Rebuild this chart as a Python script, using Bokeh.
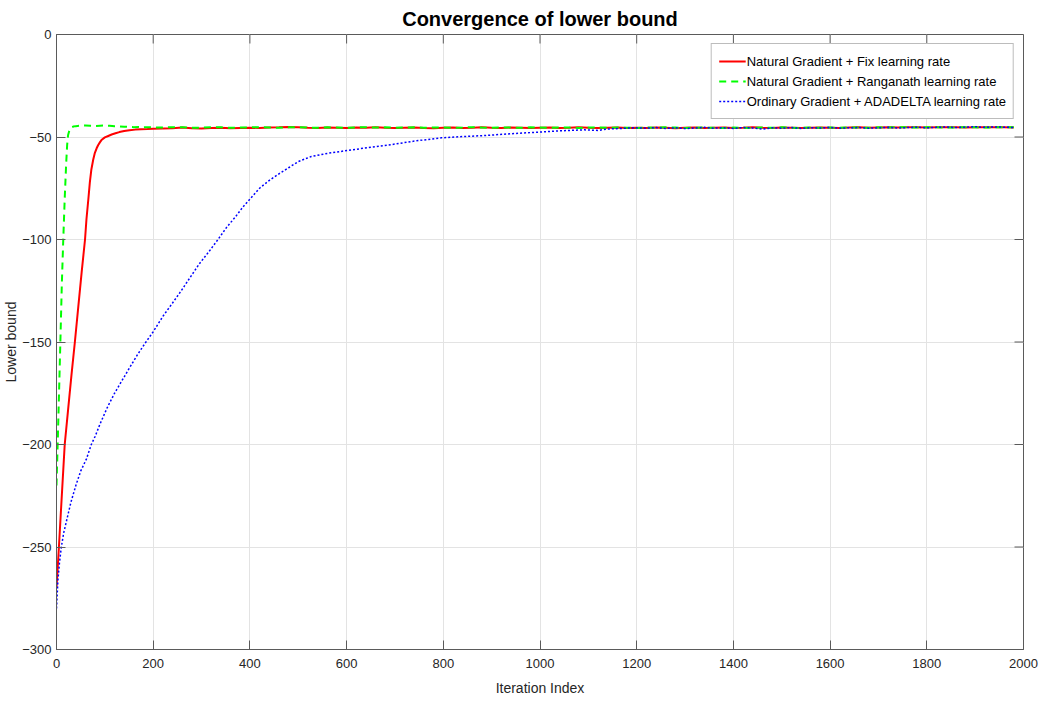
import math
from bokeh.plotting import figure
from bokeh.models import FixedTicker, Range1d, Legend, LegendItem
from bokeh.embed import file_html
from bokeh.resources import INLINE

title_text = "Convergence of lower bound"
x_label = "Iteration Index"
y_label = "Lower bound"
x_ticks = [0, 200, 400, 600, 800, 1000, 1200, 1400, 1600, 1800, 2000]
y_ticks = [-300, -250, -200, -150, -100, -50, 0]
series_names = [
    "Natural Gradient + Fix learning rate",
    "Natural Gradient + Ranganath learning rate",
    "Ordinary Gradient + ADADELTA learning rate",
]

tail_iters = [200, 220, 240, 260, 280, 300, 320, 340, 360, 380, 400, 420, 440, 460, 480,
              500, 520, 540, 560, 580, 600, 620, 640, 660, 680, 700, 720, 740, 760, 780,
              800, 820, 840, 860, 880, 900, 920, 940, 960, 980, 1000, 1020, 1040, 1060, 1080,
              1100, 1120, 1140, 1160, 1180, 1200, 1220, 1240, 1260, 1280, 1300, 1320, 1340, 1360, 1380,
              1400, 1420, 1440, 1460, 1480, 1500, 1520, 1540, 1560, 1580, 1600, 1620, 1640, 1660, 1680,
              1700, 1720, 1740, 1760, 1780, 1800, 1820, 1840, 1860, 1880, 1900, 1920, 1940, 1960, 1980]

# Natural Gradient + Fix learning rate (red)
iter_red = [0, 5, 10, 17, 24, 31, 38, 45, 52, 59, 62, 66, 69, 72, 76, 79, 83, 86, 90, 93,
            100, 107, 114, 122, 130, 140, 151, 163, 175, 188] + tail_iters
lb_red = [-270, -250, -229, -200, -183, -166, -150, -133, -116, -100, -90, -80, -72, -66, -61, -58,
          -55.5, -54, -52.5, -51.5, -50.2, -49.5, -48.8, -48.2, -47.6, -47.1, -46.7, -46.4, -46.2, -46.1,
          -46.0, -45.9, -45.7, -45.4, -45.7, -45.8, -45.6, -45.5, -45.7, -45.6,
          -45.5, -45.6, -45.4, -45.3, -45.1, -45.3, -45.5, -45.6, -45.4, -45.5,
          -45.6, -45.4, -45.5, -45.3, -45.5, -45.6, -45.5, -45.4, -45.6, -45.7,
          -45.5, -45.4, -45.6, -45.5, -45.3, -45.5, -45.6, -45.4, -45.5, -45.6,
          -45.5, -45.4, -45.6, -45.5, -45.3, -45.5, -45.6, -45.5, -45.4, -45.6,
          -45.5, -45.6, -45.4, -45.5, -45.7, -45.5, -45.4, -45.6, -45.5, -45.4,
          -45.6, -45.5, -45.3, -45.5, -45.6, -45.4, -45.5, -45.6, -45.5, -45.4,
          -45.5, -45.6, -45.4, -45.3, -45.5, -45.4, -45.3, -45.4, -45.2, -45.3,
          -45.4, -45.3, -45.2, -45.3, -45.4, -45.2, -45.3, -45.2, -45.3, -45.4]

# Natural Gradient + Ranganath learning rate (green)
iter_green = [0, 3, 6, 8, 11, 14, 17, 20, 22, 24, 27, 31, 35, 40, 50, 60, 70, 80, 90, 100,
              110, 120, 130, 140, 150, 160, 170, 180, 190] + tail_iters
lb_green = [-220, -195, -168, -150, -122, -100, -80, -63, -54, -49, -46.5, -45.3, -44.9, -44.7,
            -44.5, -44.4, -44.5, -44.6, -44.5, -44.4, -44.5, -44.7, -44.8, -45.0, -45.1, -45.2,
            -45.1, -45.3, -45.2,
            -45.3, -45.4, -45.2, -45.3, -45.5, -45.4, -45.2, -45.3, -45.5, -45.4,
            -45.3, -45.2, -45.4, -45.5, -45.3, -45.2, -45.4, -45.5, -45.3, -45.4,
            -45.5, -45.3, -45.2, -45.4, -45.3, -45.5, -45.4, -45.3, -45.5, -45.4,
            -45.3, -45.5, -45.4, -45.2, -45.4, -45.5, -45.3, -45.4, -45.5, -45.3,
            -45.4, -45.5, -45.3, -45.4, -45.6, -45.4, -45.3, -45.5, -45.4, -45.5,
            -45.6, -45.4, -45.5, -45.3, -45.4, -45.6, -45.5, -45.4, -45.5, -45.6,
            -45.4, -45.5, -45.6, -45.4, -45.5, -45.3, -45.5, -45.6, -45.4, -45.5,
            -45.4, -45.5, -45.3, -45.4, -45.5, -45.3, -45.4, -45.2, -45.3, -45.4,
            -45.3, -45.2, -45.4, -45.3, -45.2, -45.3, -45.4, -45.3, -45.2, -45.3]

# Ordinary Gradient + ADADELTA learning rate (blue)
iter_blue = [0, 3, 6, 10, 15, 20, 25, 30, 40, 50, 62, 72, 80, 90, 105, 120, 135, 150, 168, 185,
             200, 220, 240, 258, 275, 295, 315, 334, 352, 370, 386, 403, 420, 441, 460, 480,
             500, 527, 560, 604, 650, 693, 740, 796, 840, 885, 940, 999, 1040, 1092, 1120, 1140,
             1170, 1196, 1220, 1240, 1260, 1280, 1300, 1320, 1340, 1360, 1380, 1400, 1420, 1440,
             1460, 1480, 1500, 1520, 1540, 1560, 1580, 1600, 1620, 1640, 1660, 1680, 1700, 1720,
             1740, 1760, 1780, 1800, 1820, 1840, 1860, 1880, 1900, 1920, 1940, 1960, 1980]
lb_blue = [-280, -266, -258, -250, -243, -238, -233, -228, -220, -213, -207, -200, -196, -190,
           -182, -175, -169, -163, -156, -150, -145, -137.5, -131, -125, -119, -112, -106, -100,
           -94, -89, -84, -79.5, -75, -71, -68, -65, -62, -59.5, -58, -56.5, -55, -53.7, -52,
           -50.4, -49.8, -49.3, -48.4, -47.6, -47.0, -46.5, -46.8, -46.1, -45.8, -45.5,
           -45.7, -45.4, -45.8, -45.5, -45.9, -45.6, -45.3, -45.7, -45.5, -45.8, -45.4, -45.6,
           -46.2, -45.5, -45.7, -45.4, -45.8, -45.5, -45.6, -45.3, -45.7, -45.5, -45.4, -45.7,
           -45.5, -45.3, -45.6, -45.4, -45.2, -45.5, -45.3, -45.1, -45.4, -45.2, -45.0, -45.3,
           -45.1, -45.2, -45.4]

axis_col = "#5a5a5a"
text_col = "#262626"
font = "Liberation Sans"

x_lo, x_hi = x_ticks[0], x_ticks[-1]
y_lo, y_hi = y_ticks[0], y_ticks[-1]

p = figure(frame_width=967, frame_height=615,
           min_border_left=47, min_border_right=20, min_border_top=34, min_border_bottom=47,
           x_range=Range1d(x_lo, x_hi), y_range=Range1d(y_lo, y_hi),
           output_backend="svg", toolbar_location=None, title=title_text)

p.title.align = "center"
p.title.text_font = font
p.title.text_font_size = "20px"
p.title.text_font_style = "bold"
p.title.text_color = "#000000"
p.title.standoff = 10

p.background_fill_color = "white"
p.border_fill_color = "white"
p.outline_line_color = axis_col
p.outline_line_width = 1

p.xaxis.ticker = FixedTicker(ticks=x_ticks)
p.yaxis.ticker = FixedTicker(ticks=y_ticks)
for ax in (p.xaxis[0], p.yaxis[0]):
    ax.axis_line_color = axis_col
    ax.major_tick_line_color = axis_col
    ax.major_tick_in = 9
    ax.major_tick_out = 0
    ax.minor_tick_line_color = None
    ax.major_label_text_font = font
    ax.major_label_text_font_size = "13px"
    ax.major_label_text_color = text_col
    ax.axis_label_text_font = font
    ax.axis_label_text_font_size = "14px"
    ax.axis_label_text_font_style = "normal"
    ax.axis_label_text_color = text_col
p.xaxis.axis_label = x_label
p.yaxis.axis_label = y_label
p.xaxis.major_label_standoff = 9
p.xaxis.axis_label_standoff = 9
p.yaxis.major_label_standoff = 5
p.yaxis.axis_label_standoff = 0

# inward ticks on the top and right edges of the box (MATLAB style)
p.ray(x=x_ticks, y=[y_hi] * len(x_ticks), length=9, length_units="screen",
      angle=-math.pi / 2, line_color=axis_col, line_width=1)
p.ray(x=[x_hi] * len(y_ticks), y=y_ticks, length=9, length_units="screen",
      angle=math.pi, line_color=axis_col, line_width=1)

p.xgrid.ticker = FixedTicker(ticks=x_ticks)
p.ygrid.ticker = FixedTicker(ticks=y_ticks)
p.grid.grid_line_color = "#e3e3e3"
p.grid.grid_line_width = 1

r_red = p.line(iter_red, lb_red, line_color="#ff0000", line_width=2)
r_green = p.line(iter_green, lb_green, line_color="#00ff00", line_width=2, line_dash="7 5")
r_blue = p.line(iter_blue, lb_blue, line_color="#0000ff", line_width=1.5, line_dash="2 2")

legend = Legend(items=[LegendItem(label=series_names[0], renderers=[r_red]),
                       LegendItem(label=series_names[1], renderers=[r_green]),
                       LegendItem(label=series_names[2], renderers=[r_blue])],
                location="top_right")
legend.label_text_font = font
legend.label_text_font_size = "13px"
legend.label_text_color = "#000000"
legend.glyph_width = 27
legend.glyph_height = 18
legend.label_height = 20
legend.label_standoff = 1
legend.spacing = 0
legend.padding = 7
legend.margin = 9
legend.border_line_color = "#7a7a7a"
legend.border_line_width = 1
legend.background_fill_color = "white"
legend.background_fill_alpha = 1
p.add_layout(legend)

open("out.html", "w").write(file_html(p, INLINE))
